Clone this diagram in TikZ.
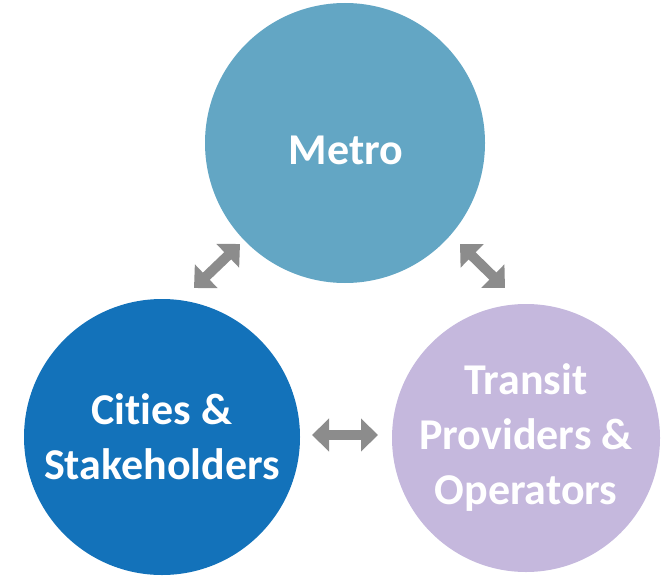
\documentclass[tikz,border=0pt]{standalone}
\usepackage{fontspec}
\setmainfont{Carlito}[Ligatures=NoCommon]
\usepackage{tikz}
\usetikzlibrary{
    positioning,
    arrows.meta
}
\definecolor{metrocolor}{RGB}{99, 166, 196}
\definecolor{citycolor}{RGB}{19, 114, 186}
\definecolor{transitcolor}{RGB}{197, 184, 221}
\definecolor{linkcolor}{RGB}{140, 140, 140}

\begin{document}
\begin{tikzpicture}[
    x=1pt, y=-1pt,
    % Partner circles
    partner/.style={
        circle,
        draw=none,
        fill=#1,
        minimum size=276pt,
        inner sep=0pt,
        text=white,
        align=center,
        font=\fontsize{44}{55}\selectfont\bfseries
    },
    % Two-way arrow style
    link/.style={
        {Triangle[width=32pt,length=17pt]}-{Triangle[width=32pt,length=17pt]},
        draw=linkcolor,
        line width=10pt
    }
]

\useasboundingbox (0, 0) rectangle (671, 575);

% ============================================
% PARTNERS
% ============================================

\node[partner=metrocolor, minimum size=280pt] (metro) at (345, 143) {};
\node[text=white, font=\fontsize{44}{55}\selectfont\bfseries] (metrolabel) at (346, 150) {Metro};

\node[partner=citycolor] (cities) at (162, 437) {Cities \&\\Stakeholders};

\node[partner=transitcolor, minimum size=268pt] (transit) at (526, 438) {Transit\\Providers \&\\Operators};

% ============================================
% TWO-WAY LINKS
% ============================================

\coordinate (mcA) at (240, 244);
\coordinate (mcB) at (194, 288);
\coordinate (mtA) at (460, 244);
\coordinate (mtB) at (505, 288);
\coordinate (ctA) at (312, 435);
\coordinate (ctB) at (378, 435);

\draw[link] (mcA) -- (mcB);
\draw[link] (mtA) -- (mtB);
\draw[link] (ctA) -- (ctB);

\end{tikzpicture}
\end{document}
